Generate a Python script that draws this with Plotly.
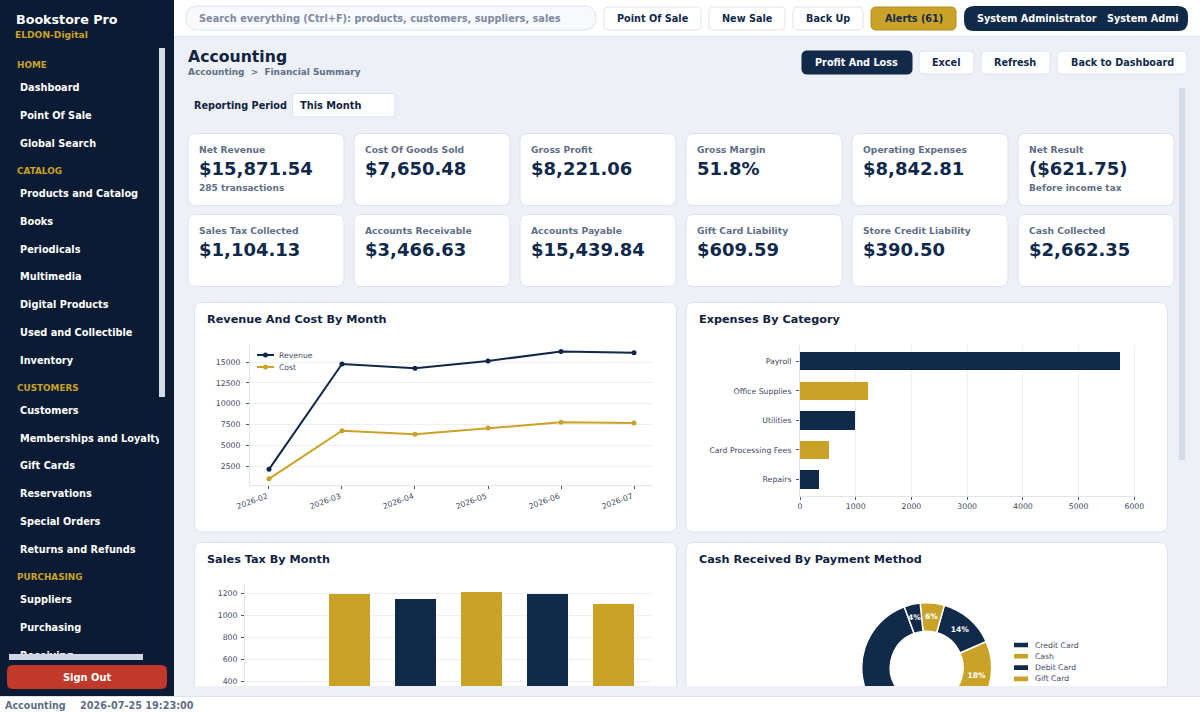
"""Bookstore Pro accounting dashboard, drawn as one Plotly figure."""

import plotly.graph_objects as go

# Canvas is taller than the window so the donut can run off the bottom of its card.
W = 1200
H = 780
FONT = "DejaVu Sans"

NAVY = "#122a4a"
GOLD = "#c9a227"
SIDEBAR = "#0a1b33"
PAGE_BG = "#edf0f6"
BORDER = "#dde3ee"
MUTED = "#5f6f86"
TICK_TEXT = "#3f4b63"
SPINE = "#dfe4ee"
GRID = "#eef0f6"

months = ["2026-02", "2026-03", "2026-04", "2026-05", "2026-06", "2026-07"]
revenue = [2140, 14760, 14240, 15120, 16270, 16110]
cost = [1000, 6770, 6330, 7080, 7770, 7680]

expense_categories = ["Payroll", "Office Supplies", "Utilities", "Card Processing Fees", "Repairs"]
expense_values = [5743, 1214, 981, 514, 347]

sales_tax = [150, 1194, 1152, 1212, 1200, 1103]

payment_methods = ["Credit Card", "Cash", "Debit Card", "Gift Card", "Store Credit"]
payment_share = [58, 18, 14, 6, 4]

kpi_row_1 = [
    ("Net Revenue", "$15,871.54", "285 transactions"),
    ("Cost Of Goods Sold", "$7,650.48", ""),
    ("Gross Profit", "$8,221.06", ""),
    ("Gross Margin", "51.8%", ""),
    ("Operating Expenses", "$8,842.81", ""),
    ("Net Result", "($621.75)", "Before income tax"),
]
kpi_row_2 = [
    ("Sales Tax Collected", "$1,104.13", ""),
    ("Accounts Receivable", "$3,466.63", ""),
    ("Accounts Payable", "$15,439.84", ""),
    ("Gift Card Liability", "$609.59", ""),
    ("Store Credit Liability", "$390.50", ""),
    ("Cash Collected", "$2,662.35", ""),
]

menu_sections = [("HOME", 65), ("CATALOG", 171), ("CUSTOMERS", 388), ("PURCHASING", 577)]
menu_items = [
    ("Dashboard", 88), ("Point Of Sale", 116), ("Global Search", 144),
    ("Products and Catalog", 194), ("Books", 222), ("Periodicals", 249.5),
    ("Multimedia", 277), ("Digital Products", 305), ("Used and Collectible", 333),
    ("Inventory", 361), ("Customers", 411), ("Memberships and Loyalty", 439),
    ("Gift Cards", 466), ("Reservations", 494), ("Special Orders", 522),
    ("Returns and Refunds", 550), ("Suppliers", 600), ("Purchasing", 628),
    ("Receiving", 656),
]


def fx(px):
    return px / W


def fy(py):
    return 1 - py / H


def dom_x(a, b):
    return [fx(a), fx(b)]


def dom_y(top, bottom):
    return [fy(bottom), fy(top)]


shapes = []
annotations = []


def box(x0, y0, x1, y1, fill, line=None, r=0, layer="below"):
    """Rounded rectangle given in screen pixels."""
    a, b, c, d = fx(x0), fy(y0), fx(x1), fy(y1)
    rx, ry = r / W, r / H
    path = (
        f"M {a + rx} {b} L {c - rx} {b} Q {c} {b} {c} {b - ry} "
        f"L {c} {d + ry} Q {c} {d} {c - rx} {d} "
        f"L {a + rx} {d} Q {a} {d} {a} {d + ry} "
        f"L {a} {b - ry} Q {a} {b} {a + rx} {b} Z"
    )
    shapes.append({
        "type": "path", "path": path, "xref": "paper", "yref": "paper",
        "fillcolor": fill, "layer": layer,
        "line": {"color": line or fill, "width": 1 if line else 0},
    })


def label(x, y, text, size, color, bold=True, anchor="left"):
    # annotations pad their text by about 2px on the anchored side
    if anchor == "left":
        x -= 2
    annotations.append({
        "x": fx(x), "y": fy(y), "xref": "paper", "yref": "paper",
        "text": text, "showarrow": False, "xanchor": anchor, "yanchor": "middle",
        "font": {"family": FONT, "size": size, "color": color, "weight": 700 if bold else 400},
    })


def button(x0, x1, y0, y1, text, fill="#ffffff", color=NAVY, line=BORDER, r=5):
    box(x0, y0, x1, y1, fill, line, r)
    label((x0 + x1) / 2, (y0 + y1) / 2, text, 9.7, color, anchor="center")


# page furniture
box(0, 0, W, H, PAGE_BG)
box(174, 0, W, 36, "#ffffff")
shapes.append({"type": "line", "xref": "paper", "yref": "paper", "x0": fx(174), "x1": 1,
               "y0": fy(36.5), "y1": fy(36.5), "line": {"color": BORDER, "width": 1}, "layer": "below"})
box(0, 0, 174, 697, SIDEBAR)

label(16, 19, "Bookstore Pro", 12.7, "#ffffff")
label(15, 35, "ELDON-Digital", 9.15, GOLD)

box(186, 6, 596, 30, "#f7f9fc", BORDER, 12)
label(199, 18.5, "Search everything (Ctrl+F): products, customers, suppliers, sales", 9.78, "#7f8a9e")
button(604, 701, 7, 30, "Point Of Sale")
button(709, 785, 7, 30, "New Sale")
button(793, 863, 7, 30, "Back Up")
button(871, 956, 7, 30, "Alerts (61)", fill=GOLD, line="#b08d1f")
box(964, 6, 1188, 31, NAVY, None, 10)
label(977, 18.5, "System Administrator", 9.7, "#ffffff")
label(1107, 18.5, "System Admi", 9.7, "#ffffff")

label(188, 57, "Accounting", 15.7, "#10233f")
label(188, 72, "Accounting  &gt;  Financial Summary", 8.95, MUTED)
button(802, 912, 51, 74, "Profit And Loss", fill=NAVY, color="#ffffff", line="#0f2340")
button(919, 974, 51, 74, "Excel")
button(981, 1050, 51, 74, "Refresh")
button(1057, 1187, 51, 74, "Back to Dashboard")

label(194, 105.5, "Reporting Period", 9.7, "#10233f")
box(292.5, 93.5, 395, 117, "#ffffff", BORDER, 3)
label(300, 105.5, "This Month", 9.8, "#10233f")

# KPI cards
card_lefts = [188, 354, 520, 686, 852, 1018]
for row, top in ((kpi_row_1, 133.5), (kpi_row_2, 214.5)):
    for left, (name, value, note) in zip(card_lefts, row):
        box(left, top, left + 156, top + 72, "#ffffff", BORDER, 8)
        label(left + 11, top + 15.5, name, 9.2, MUTED)
        label(left + 11, top + 35, value, 18, "#10294b")
        if note:
            label(left + 11, top + 54.5, note, 9, MUTED)

# chart cards
for left, right, top, bottom, title in (
    (194.5, 676.5, 302.5, 532, "Revenue And Cost By Month"),
    (686, 1167.5, 302.5, 532, "Expenses By Category"),
    (194.5, 676.5, 542.5, 720, "Sales Tax By Month"),
    (686, 1167.5, 542.5, 720, "Cash Received By Payment Method"),
):
    box(left, top, right, bottom, "#ffffff", BORDER, 8)
    label(left + 12.5, top + 16.5, title, 11.25, "#10233f")


def axis(**kw):
    base = {
        "automargin": False,
        "showline": True, "linecolor": SPINE, "linewidth": 1, "zeroline": False,
        "ticks": "outside", "ticklen": 3, "tickcolor": "#4a5568", "tickwidth": 1,
        "tickfont": {"family": FONT, "size": 7.75, "color": TICK_TEXT},
        "tickformat": "d",
        "showgrid": False, "gridcolor": GRID, "gridwidth": 1, "fixedrange": True,
    }
    base.update(kw)
    return base


fig = go.Figure()

# revenue and cost lines
fig.add_trace(go.Scatter(
    x=months, y=revenue, name="Revenue", mode="lines+markers", xaxis="x", yaxis="y",
    line={"color": "#10274a", "width": 2}, marker={"color": "#10274a", "size": 5},
))
fig.add_trace(go.Scatter(
    x=months, y=cost, name="Cost", mode="lines+markers", xaxis="x", yaxis="y",
    line={"color": GOLD, "width": 2}, marker={"color": GOLD, "size": 5},
))

# expenses, largest at the top
fig.add_trace(go.Bar(
    x=expense_values, y=expense_categories, orientation="h", width=0.62, xaxis="x2", yaxis="y2",
    marker={"color": [NAVY, GOLD, NAVY, GOLD, NAVY], "line": {"width": 0}},
))

# sales tax; the card cuts the axis off at about 360
fig.add_trace(go.Bar(
    x=months, y=sales_tax, width=0.62, xaxis="x3", yaxis="y3",
    marker={"color": [NAVY, GOLD, NAVY, GOLD, NAVY, GOLD], "line": {"width": 0}},
))

# payment donut; counterclockwise, so the first slice ends at the rotation angle.
# Plotly shrinks text in the two thin slices, so those two are labelled below.
fig.add_trace(go.Pie(
    labels=payment_methods, values=payment_share, sort=False, direction="counterclockwise",
    rotation=131, hole=0.56,
    textposition=["inside", "inside", "inside", "none", "none"],
    insidetextorientation="horizontal",
    texttemplate="%{value}%",
    insidetextfont={"family": FONT, "size": 7.6, "color": "#ffffff", "weight": 700},
    marker={"colors": [NAVY, GOLD, NAVY, GOLD, NAVY], "line": {"color": "#ffffff", "width": 1.5}},
    domain={"x": dom_x(861.7, 991.7), "y": dom_y(602.7, 732.7)},
    showlegend=False,
))
label(932, 616.5, f"{payment_share[3]}%", 7.6, "#ffffff", anchor="center")
label(914.5, 617, f"{payment_share[4]}%", 7.6, "#ffffff", anchor="center")

# sidebar menu, on its own axes so the scroll area clips the text
fig.add_trace(go.Scatter(
    x=[17] * len(menu_sections), y=[y for _, y in menu_sections],
    text=[t for t, _ in menu_sections], mode="text", textposition="middle right",
    textfont={"family": FONT, "size": 8.85, "color": GOLD, "weight": 700},
    xaxis="x4", yaxis="y4",
))
fig.add_trace(go.Scatter(
    x=[20] * len(menu_items), y=[y for _, y in menu_items],
    text=[t for t, _ in menu_items], mode="text", textposition="middle right",
    textfont={"family": FONT, "size": 9.75, "color": "#ffffff", "weight": 700},
    xaxis="x4", yaxis="y4",
))

# legends of both charts use the flat swatches of the original
for name, color, y in (("Revenue", "#10274a", 355), ("Cost", GOLD, 367)):
    shapes.append({"type": "line", "xref": "paper", "yref": "paper", "x0": fx(257), "x1": fx(274),
                   "y0": fy(y), "y1": fy(y), "line": {"color": color, "width": 2}, "layer": "above"})
    shapes.append({"type": "circle", "xref": "paper", "yref": "paper",
                   "x0": fx(263), "x1": fx(268), "y0": fy(y + 2.5), "y1": fy(y - 2.5),
                   "fillcolor": color, "line": {"width": 0}, "layer": "above"})
    label(279, y + 0.5, name, 7.7, TICK_TEXT, bold=False)

for i, (name, color) in enumerate(zip(payment_methods[:4], [NAVY, GOLD, NAVY, GOLD])):
    y = 645 + i * 11.3
    box(1014, y - 2.3, 1028, y + 2.3, color)
    label(1035, y, name, 7.7, TICK_TEXT, bold=False)

# things that sit on top of the traces
box(174, 686, W, 697, PAGE_BG, layer="above")
box(0, 697, W, H, "#ffffff", layer="above")
shapes.append({"type": "line", "xref": "paper", "yref": "paper", "x0": 0, "x1": 1,
               "y0": fy(696.5), "y1": fy(696.5), "line": {"color": BORDER, "width": 1}, "layer": "above"})
box(159, 48, 165, 397, "#d5dbe7", layer="above")
box(1179, 88, 1185, 460, "#d3dae8", layer="above")
box(9, 654, 143, 660, "#cfd6e4", layer="above")
box(7, 665, 167, 689, "#c0392b", None, 6, layer="above")
label(87, 677, "Sign Out", 9.9, "#ffffff", anchor="center")
label(5, 705, "Accounting", 9.6, MUTED)
label(80, 705, "2026-07-25 19:23:00", 9.7, MUTED)

fig.update_layout(
    width=W,
    height=H,
    margin={"l": 0, "r": 0, "t": 0, "b": 0},
    paper_bgcolor=PAGE_BG,
    plot_bgcolor="rgba(0,0,0,0)",
    font={"family": FONT},
    showlegend=False,
    hovermode=False,
    bargap=0,
    shapes=shapes,
    annotations=annotations,
    xaxis=axis(domain=dom_x(250, 652.7), anchor="y", type="category", range=[-0.26, 5.256],
               tickangle=-20, categoryorder="array", categoryarray=months, ticklabelshift=-2),
    yaxis=axis(domain=dom_y(345, 485), anchor="x", range=[260, 17037], dtick=2500, tick0=0,
               showgrid=True, ticklabelstandoff=4),
    xaxis2=axis(domain=dom_x(800, 1136), anchor="y2", range=[0, 6030], dtick=1000, tick0=0, showgrid=True),
    yaxis2=axis(domain=dom_y(345, 495.7), anchor="x2", type="category", range=[4.55, -0.55],
                ticklabelstandoff=3),
    xaxis3=axis(domain=dom_x(245, 652), anchor="y3", type="category", range=[-0.593, 5.59],
                visible=False),
    yaxis3=axis(domain=dom_y(585, 686), anchor="x3", range=[361, 1279], dtick=200, tick0=0,
                showgrid=True, ticklabelstandoff=2),
    # one pixel of range offset lines the menu rows up with the original
    xaxis4={"domain": dom_x(0, 159), "anchor": "y4", "range": [0, 159], "visible": False,
            "fixedrange": True, "automargin": False},
    yaxis4={"domain": dom_y(45, 654), "anchor": "x4", "range": [653, 44], "visible": False,
            "fixedrange": True, "automargin": False},
)

page_fix = (
    "document.documentElement.style.overflow='hidden';"
    "document.body.style.margin='0';"
    "document.body.style.height='713px';"
    "document.body.style.overflow='hidden';"
)
fig.write_html("out.html", config={"displayModeBar": False}, post_script=page_fix)
